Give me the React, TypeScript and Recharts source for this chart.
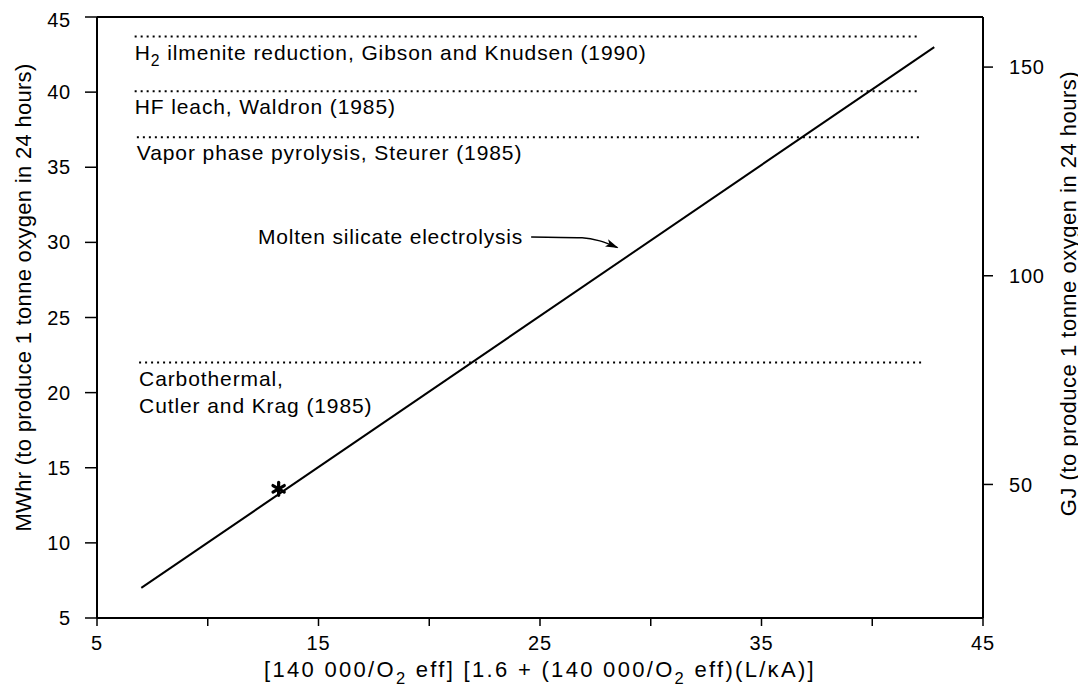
import { ComposedChart, Line, Scatter, XAxis, YAxis, ReferenceLine, ReferenceDot, Label } from 'recharts';

// axes
const xTicks = [5, 10, 15, 20, 25, 30, 35, 40, 45];
const xLabelled = [5, 15, 25, 35, 45];
const mwhTicks = [5, 10, 15, 20, 25, 30, 35, 40, 45];
const gjTicks = [50, 100, 150];
const GJ_PER_MWH = 3.6;

// molten silicate electrolysis line, read at both ends
const lineX = [7, 42.8];
const lineMWh = [7, 43.0];

// starred point on the line
const starX = [13.2];
const starMWh = [13.6];

// other processes, drawn as dotted levels
const processLabels = [
  ['H_2 ilmenite reduction, Gibson and Knudsen (1990)'],
  ['HF leach, Waldron (1985)'],
  ['Vapor phase pyrolysis, Steurer (1985)'],
  ['Carbothermal,', 'Cutler and Krag (1985)'],
];
const processMWh = [43.7, 40.05, 37.0, 22.0];
const processFrom = [6.7, 6.7, 6.8, 6.9];
const processTo = [42.1, 42.15, 42.25, 42.3];

// callout arrow for the line
const calloutText = 'Molten silicate electrolysis';
const arrowX = [24.6, 26.9, 27.7, 28.5];
const arrowMWh = [30.36, 30.3, 30.1, 29.65];

const lineData = lineX.map((x, i) => ({ x, y: lineMWh[i] }));
const starData = starX.map((x, i) => ({ x, y: starMWh[i] }));
const arrowData = arrowX.map((x, i) => ({ x, y: arrowMWh[i] }));

const FONT = '"Liberation Sans", Arial, Helvetica, sans-serif';

// "O_2" -> O with subscript 2
function rich(text: string, size: number) {
  const parts = text.split(/_(\d)/);
  const shift = size * 0.3;
  return parts.map((p, i) =>
    i % 2 === 1 ? (
      <tspan key={i} dy={shift} fontSize={size * 0.75}>{p}</tspan>
    ) : (
      <tspan key={i} dy={i === 0 ? 0 : -shift}>{p}</tspan>
    )
  );
}

const Asterisk = (props: any) => {
  const { cx, cy } = props;
  const r = 6.5;
  return (
    <g stroke="#000" strokeWidth={3.2} strokeLinecap="round">
      <line x1={cx} y1={cy - r} x2={cx} y2={cy + r} />
      <line x1={cx - r * 0.87} y1={cy - r / 2} x2={cx + r * 0.87} y2={cy + r / 2} />
      <line x1={cx - r * 0.87} y1={cy + r / 2} x2={cx + r * 0.87} y2={cy - r / 2} />
    </g>
  );
};

export default function App() {
  return (
    <div style={{ fontFamily: FONT, background: '#fff' }}>
      <svg width={0} height={0} style={{ position: 'absolute' }}>
        <defs>
          <marker id="arrowhead" markerUnits="userSpaceOnUse" markerWidth={14} markerHeight={10} refX={12} refY={5} orient="auto">
            <path d="M0,1 L13,5 L0,9 L3,5 z" fill="#000" />
          </marker>
        </defs>
      </svg>
      <ComposedChart width={1078} height={680} margin={{ top: 9, right: 0, bottom: 0, left: 0 }}>
        <XAxis
          dataKey="x"
          type="number"
          domain={[5, 45]}
          ticks={xTicks}
          allowDataOverflow
          height={70}
          axisLine={{ stroke: '#000', strokeWidth: 2 }}
          tickLine={{ stroke: '#000', strokeWidth: 1.5 }}
          tickSize={8}
          tickMargin={10}
          tick={{ fill: '#000', fontSize: 20, letterSpacing: 0.8 }}
          tickFormatter={(v) => (xLabelled.includes(v) ? String(v) : '')}
        >
          <Label
            content={({ viewBox }: any) => (
              <text
                x={viewBox.x + viewBox.width / 2}
                y={viewBox.y + 59}
                textAnchor="middle"
                fontSize={22}
                fill="#000"
                style={{ letterSpacing: 2.3 }}
              >
                {rich('[140 000/O_2 eff] [1.6 + (140 000/O_2 eff)(L/κA)]', 22)}
              </text>
            )}
          />
        </XAxis>
        <YAxis
          yAxisId="left"
          type="number"
          domain={[5, 45]}
          ticks={mwhTicks}
          allowDataOverflow
          width={89}
          axisLine={{ stroke: '#000', strokeWidth: 2 }}
          tickLine={{ stroke: '#000', strokeWidth: 1.5 }}
          tickSize={12}
          tickMargin={14}
          tick={{ fill: '#000', fontSize: 20, letterSpacing: 0.8 }}
        >
          <Label
            content={({ viewBox }: any) => {
              const cx = viewBox.x + 15;
              const cy = viewBox.y + viewBox.height / 2 - 20;
              return (
                <text x={cx} y={cy} transform={`rotate(-90 ${cx} ${cy})`} textAnchor="middle" dominantBaseline="central" fontSize={22} fill="#000" style={{ letterSpacing: 0.3 }}>
                  MWhr (to produce 1 tonne oxygen in 24 hours)
                </text>
              );
            }}
          />
        </YAxis>
        <YAxis
          yAxisId="right"
          orientation="right"
          type="number"
          domain={[5 * GJ_PER_MWH, 45 * GJ_PER_MWH]}
          ticks={gjTicks}
          allowDataOverflow
          width={103}
          axisLine={{ stroke: '#000', strokeWidth: 2 }}
          tickLine={{ stroke: '#000', strokeWidth: 1.5 }}
          tickSize={10}
          tickMargin={16}
          tick={{ fill: '#000', fontSize: 20, letterSpacing: 0.8 }}
        >
          <Label
            content={({ viewBox }: any) => {
              const cx = viewBox.x + 85;
              const cy = viewBox.y + viewBox.height / 2 - 24;
              return (
                <text x={cx} y={cy} transform={`rotate(-90 ${cx} ${cy})`} textAnchor="middle" dominantBaseline="central" fontSize={22} fill="#000" style={{ letterSpacing: 0.5 }}>
                  GJ (to produce 1 tonne oxygen in 24 hours)
                </text>
              );
            }}
          />
        </YAxis>

        <ReferenceLine yAxisId="left" y={45} stroke="#000" strokeWidth={2} />

        {processMWh.map((y, i) => (
          <ReferenceLine
            key={`lvl${i}`}
            yAxisId="left"
            segment={[{ x: processFrom[i], y }, { x: processTo[i], y }]}
            stroke="#000"
            strokeWidth={2}
            strokeDasharray="2 4"
          />
        ))}
        {processMWh.map((y, i) => (
          <ReferenceDot key={`lbl${i}`} yAxisId="left" x={processFrom[i]} y={y} r={0} fill="none" stroke="none">
            <Label
              content={({ viewBox }: any) => (
                <text x={viewBox.x} y={viewBox.y} fontSize={21} fill="#000" style={{ letterSpacing: 0.9 }}>
                  {processLabels[i].map((ln, j) => (
                    <tspan key={j} x={viewBox.x} y={viewBox.y + 23 + j * 27}>
                      {rich(ln, 21)}
                    </tspan>
                  ))}
                </text>
              )}
            />
          </ReferenceDot>
        ))}

        <Line yAxisId="left" data={lineData} dataKey="y" type="linear" stroke="#000" strokeWidth={2} dot={false} isAnimationActive={false} />
        <Line
          yAxisId="left"
          data={arrowData}
          dataKey="y"
          type="monotone"
          stroke="#000"
          strokeWidth={1.5}
          dot={false}
          markerEnd="url(#arrowhead)"
          isAnimationActive={false}
        />
        <ReferenceDot yAxisId="left" x={arrowX[0]} y={arrowMWh[0]} r={0} fill="none" stroke="none">
          <Label
            content={({ viewBox }: any) => (
              <text x={viewBox.x - 8} y={viewBox.y} textAnchor="end" dominantBaseline="central" fontSize={21} fill="#000" style={{ letterSpacing: 0.8 }}>
                {calloutText}
              </text>
            )}
          />
        </ReferenceDot>
        <Scatter yAxisId="left" data={starData} dataKey="y" shape={<Asterisk />} isAnimationActive={false} />
      </ComposedChart>
    </div>
  );
}
